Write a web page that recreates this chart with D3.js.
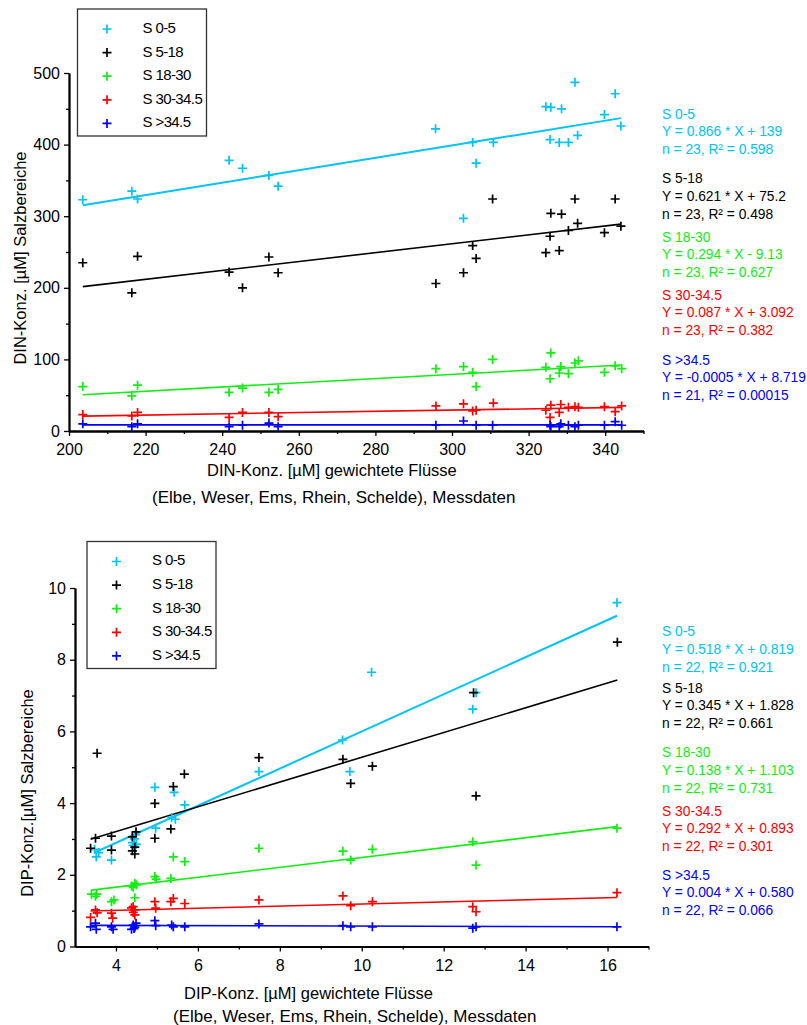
<!DOCTYPE html>
<html>
<head>
<meta charset="utf-8">
<script src="https://cdn.jsdelivr.net/npm/d3@7"></script>
<style>
  body { margin: 0; background: #fff; }
  svg text { font-family: "Liberation Sans", Arial, sans-serif; }
</style>
</head>
<body>
<svg id="chart" width="807" height="1025"></svg>
<script>
// ---- data ----
const seriesNames = ["S 0-5", "S 5-18", "S 18-30", "S 30-34.5", "S >34.5"];
const seriesColors = ["#00c4f8", "#000000", "#11ee11", "#ff0000", "#0000ff"];

// DIN panel: [river DIN, salinity-class DIN]
const dinS05 = [[203.6,323],[216.4,335],[217.9,324],[241.8,378],[245.3,367],[252.2,357],[254.6,342],
  [295.7,422],[305.4,403],[310.8,403],[306.3,374],[303,297],[324.5,453],[325.8,452],[328.6,450],
  [332.1,487],[342.6,471],[339.8,442],[344.1,426],[325.6,407],[328,403],[330.4,403],[332.8,413]];
const dinS518 = [[203.6,235],[217.9,244],[216.4,193],[241.8,222],[245.3,200],[252.2,243],[254.6,221],
  [295.8,206],[303,221],[305.4,259],[306.3,241],[310.6,324],[332.1,324],[342.6,324],[325.8,304],
  [328.6,303],[332.8,290],[330.4,280],[339.8,277],[344.1,286],[325.6,272],[324.5,249],[328,252]];
const dinS1830 = [[203.6,62],[216.4,49],[217.9,64],[241.8,54],[245.3,60],[252.2,54],[254.6,58],
  [295.8,87],[303,90],[305.4,82],[306.3,62],[310.6,100],[325.8,109],[324.5,89],[325.6,73],
  [328.4,90],[328,81],[330.4,80],[332.1,95],[333,98],[339.8,82],[342.6,91],[344.3,87]];
const dinS3034 = [[203.6,23],[216.4,21],[217.9,26],[241.8,19],[245.3,26],[252.2,26],[254.6,20],
  [295.8,35],[303,38],[305.4,28],[306.3,29],[310.8,39],[324.5,29],[325.8,36],[325.6,19],
  [328,26],[328.4,37],[330.4,33],[332.1,34],[333,33],[339.8,34],[342.6,27],[344.3,35]];
const dinS34 = [[203.6,10],[216.4,6],[217.9,10],[241.8,6],[245.3,8],[252.2,11],[254.6,6],
  [295.8,8],[303,14],[306.3,8],[310.6,8],[325.6,8],[328,6],[328.4,10],[330.4,8],
  [332.1,6],[333,8],[339.8,8],[342.6,13],[344.3,8],[325.8,6]];

// DIP panel
const dipS05 = [[3.48,2.71],[3.52,2.50],[3.89,2.41],[4.40,2.90],[4.45,3.00],[4.50,2.85],[4.95,4.44],
  [4.97,3.30],[5.42,4.30],[5.36,3.60],[5.68,3.95],[7.49,4.88],[9.71,4.88],[9.53,5.76],[10.24,7.65],
  [12.79,7.08],[12.71,6.62],[16.23,9.59],[3.58,2.62],[4.42,2.82],[4.48,3.12],[5.45,3.55]];
const dipS518 = [[3.38,2.74],[3.50,3.02],[3.89,3.08],[3.89,2.69],[4.40,3.06],[4.49,3.20],[4.46,2.77],
  [4.40,2.67],[4.46,2.58],[4.95,3.99],[4.95,3.02],[5.40,4.46],[5.34,3.28],[5.67,4.81],[3.54,5.39],
  [7.49,5.27],[9.54,5.22],[10.26,5.03],[9.73,4.55],[12.73,7.08],[12.79,4.20],[16.24,8.49]];
const dipS1830 = [[3.40,1.46],[3.53,1.46],[3.50,1.40],[3.89,1.25],[3.95,1.30],[4.38,1.69],[4.46,1.76],
  [4.42,1.65],[4.46,1.36],[4.95,1.95],[4.98,1.88],[5.34,1.90],[5.40,2.50],[5.68,2.37],[7.49,2.74],
  [9.54,2.66],[9.73,2.41],[10.26,2.71],[12.71,2.92],[12.79,2.27],[16.23,3.30],[4.50,1.72]];
const dipS3034 = [[3.38,0.81],[3.50,1.02],[3.54,0.94],[3.89,0.93],[3.92,0.79],[4.38,1.08],[4.46,1.02],
  [4.46,0.88],[4.42,1.11],[4.95,1.25],[4.97,1.07],[5.34,1.25],[5.40,1.34],[5.68,1.20],[7.49,1.30],
  [9.54,1.41],[9.73,1.14],[10.26,1.25],[12.71,1.11],[12.79,0.97],[16.23,1.50],[4.42,0.95]];
const dipS34 = [[3.38,0.55],[3.50,0.65],[3.52,0.48],[3.89,0.55],[3.93,0.48],[4.38,0.48],[4.42,0.60],
  [4.49,0.65],[4.46,0.54],[4.95,0.72],[4.97,0.58],[5.36,0.60],[5.40,0.55],[5.68,0.55],[7.49,0.63],
  [9.54,0.58],[9.73,0.55],[10.26,0.55],[12.71,0.51],[12.79,0.55],[16.23,0.55],[4.44,0.50]];

// regression lines as drawn [slope, intercept]
const dinFits = [[0.866,139],[0.621,75.2],[0.294,-9.13],[0.087,3.092],[-0.0005,8.719]];
const dipFits = [[0.518,0.819],[0.345,1.828],[0.138,1.103],[0.0292,0.893],[-0.003,0.6]];

// annotation texts
const dinEq = ["Y = 0.866 * X + 139","Y = 0.621 * X + 75.2","Y = 0.294 * X - 9.13","Y = 0.087 * X + 3.092","Y = -0.0005 * X + 8.719"];
const dinStat = ["n = 23, R² = 0.598","n = 23, R² = 0.498","n = 23, R² = 0.627","n = 23, R² = 0.382","n = 21, R² = 0.00015"];
const dipEq = ["Y = 0.518 * X + 0.819","Y = 0.345 * X + 1.828","Y = 0.138 * X + 1.103","Y = 0.292 * X + 0.893","Y = 0.004 * X + 0.580"];
const dipStat = ["n = 22, R² = 0.921","n = 22, R² = 0.661","n = 22, R² = 0.731","n = 22, R² = 0.301","n = 22, R² = 0.066"];

const dinXTicks = [200,220,240,260,280,300,320,340];
const dinYTicks = [0,100,200,300,400,500];
const dipXTicks = [4,6,8,10,12,14,16];
const dipYTicks = [0,2,4,6,8,10];

const svg = d3.select("#chart");
const cross = "M-4.5,0H4.5M0,-4.5V4.5";

function drawPanel(p) {
  const x = d3.scaleLinear().domain(p.xDomain).range(p.xRange);
  const y = d3.scaleLinear().domain(p.yDomain).range(p.yRange);
  const g = svg.append("g");

  // minor ticks first, then the major axis over them
  g.append("g").attr("transform", `translate(0,${p.yRange[0]})`)
    .call(d3.axisBottom(x).tickValues(p.xMinor).tickSize(3).tickSizeOuter(0).tickFormat(""));
  g.append("g").attr("transform", `translate(${p.xRange[0]},0)`)
    .call(d3.axisLeft(y).tickValues(p.yMinor).tickSize(3).tickSizeOuter(0).tickFormat(""));

  const xa = g.append("g").attr("transform", `translate(0,${p.yRange[0]})`)
    .call(d3.axisBottom(x).tickValues(p.xTicks).tickSize(5).tickSizeOuter(0).tickPadding(8));
  const ya = g.append("g").attr("transform", `translate(${p.xRange[0]},0)`)
    .call(d3.axisLeft(y).tickValues(p.yTicks).tickSize(5).tickSizeOuter(0).tickPadding(4));

  g.selectAll(".domain").attr("stroke", "#000").attr("stroke-width", 1.8);
  g.selectAll(".tick line").attr("stroke", "#000").attr("stroke-width", 1.3);
  [xa, ya].forEach(a => a.selectAll("text").attr("font-size", 16).attr("fill", "#000")
    .attr("font-family", "Liberation Sans, Arial, sans-serif"));

  // regression lines over the x-range of each series
  p.series.forEach((s, i) => {
    const ext = d3.extent(s, d => d[0]);
    const [m, b] = p.fits[i];
    g.append("path")
      .datum(ext.map(v => [v, m * v + b]))
      .attr("fill", "none")
      .attr("stroke", seriesColors[i])
      .attr("stroke-width", i === 0 ? 2 : 1.6)
      .attr("d", d3.line().x(d => x(d[0])).y(d => y(d[1])));
  });

  // plus markers
  p.series.forEach((s, i) => {
    g.append("g").selectAll("path").data(s).join("path")
      .attr("transform", d => `translate(${x(d[0])},${y(d[1])})`)
      .attr("d", cross)
      .attr("stroke", seriesColors[i])
      .attr("stroke-width", 1.7)
      .attr("fill", "none");
  });

  // axis titles
  g.append("text")
    .attr("transform", `translate(${p.yTitlePos[0]},${p.yTitlePos[1]}) rotate(-90)`)
    .attr("text-anchor", "middle").attr("font-size", 16.5)
    .attr("dominant-baseline", "middle")
    .text(p.yTitle);
  p.xTitle.forEach((t, k) => {
    g.append("text")
      .attr("x", p.xTitlePos[k][0]).attr("y", p.xTitlePos[k][1])
      .attr("font-size", k === 0 ? 16.5 : 17)
      .text(t);
  });

  // legend
  const L = p.legend;
  g.append("rect").attr("x", L.x).attr("y", L.y).attr("width", L.w).attr("height", L.h)
    .attr("fill", "#fff").attr("stroke", "#333").attr("stroke-width", 1.3);
  seriesNames.forEach((name, i) => {
    const yy = L.y + 20 + i * 23.6;
    g.append("path").attr("transform", `translate(${L.x + 29.5},${yy})`)
      .attr("d", cross)
      .attr("stroke", seriesColors[i]).attr("stroke-width", 1.7);
    g.append("text").attr("x", L.x + 65).attr("y", yy).attr("dominant-baseline", "middle")
      .attr("font-size", 15).attr("letter-spacing", -0.6).text(name);
  });

  // equations on the right
  seriesNames.forEach((name, i) => {
    const y0 = p.noteY[i];
    [name, p.eq[i], p.stat[i]].forEach((t, k) => {
      g.append("text").attr("x", 662).attr("y", y0 + k * 17.7)
        .attr("dominant-baseline", "middle")
        .attr("font-size", 13.8)
        .attr("fill", seriesColors[i]).text(t);
    });
  });
}

drawPanel({
  xDomain: [200, 350], xRange: [69, 643.5],
  yDomain: [0, 500], yRange: [431, 73],
  xTicks: dinXTicks, yTicks: dinYTicks,
  xMinor: d3.range(210, 351, 20), yMinor: d3.range(50, 500, 100),
  series: [dinS05, dinS518, dinS1830, dinS3034, dinS34],
  fits: dinFits, eq: dinEq, stat: dinStat,
  yTitle: "DIN-Konz. [µM] Salzbereiche", yTitlePos: [22, 258],
  xTitle: ["DIN-Konz. [µM] gewichtete Flüsse", "(Elbe, Weser, Ems, Rhein, Schelde), Messdaten"],
  xTitlePos: [[207, 476], [152, 503]],
  legend: { x: 77.5, y: 9, w: 129, h: 127 },
  noteY: [115, 179.5, 238, 296, 361]
});

drawPanel({
  xDomain: [3, 17], xRange: [75, 648.5],
  yDomain: [0, 10], yRange: [946.5, 588],
  xTicks: dipXTicks, yTicks: dipYTicks,
  xMinor: d3.range(5, 17.1, 2), yMinor: d3.range(1, 10, 2),
  series: [dipS05, dipS518, dipS1830, dipS3034, dipS34],
  fits: dipFits, eq: dipEq, stat: dipStat,
  yTitle: "DIP-Konz.[µM] Salzbereiche", yTitlePos: [29, 793],
  xTitle: ["DIP-Konz. [µM] gewichtete Flüsse", "(Elbe, Weser, Ems, Rhein, Schelde), Messdaten"],
  xTitlePos: [[184, 999], [173, 1022]],
  legend: { x: 87, y: 541.5, w: 129, h: 127 },
  noteY: [632.5, 689, 753.5, 812, 876]
});
</script>
</body>
</html>
